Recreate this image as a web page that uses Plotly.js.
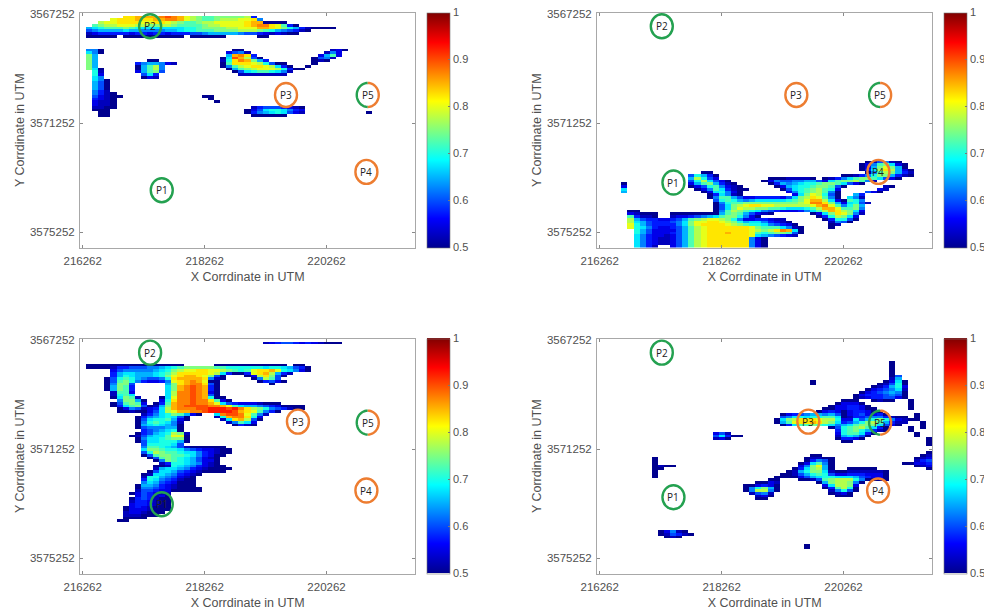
<!DOCTYPE html>
<html>
<head>
<meta charset="utf-8">
<script src="https://cdn.plot.ly/plotly-3.0.1.min.js"></script>
<style>html,body{margin:0;padding:0;background:#fff}#chart{width:984px;height:611px}</style>
</head>
<body>
<div id="chart"></div>
<script>
// Cell values as letters: a = 0.500 ... u = 1.000, in steps of 0.025. Entries: [row, column, letters]
const levelLetters = "abcdefghijklmnopqrstu";
const xTicks = [216262, 218262, 220262];
const yTicks = [3567252, 3571252, 3575252];
const colorTicks = [0.5, 0.6, 0.7, 0.8, 0.9, 1];
const colorTickText = ["0.5", "0.6", "0.7", "0.8", "0.9", "1"];
const pointNames = ["P1", "P2", "P3", "P4", "P5"];

const panelA = [
[1,7,"nnoooopqpomlkjjkkkkkld"],
[2,5,"mnnnonnooppomlkjjklllmmnf"],
[3,3,"lmmnnnnmmnnmlkjjkllmmmmmnoo"],[3,30,"aaaa"],
[4,2,"jkllmmmllkkllkjjjjkllmmmmnoppnmjda"],
[5,1,"ghijjjkjihhhhhhhiijkkkkllmmmoonmkigdba"],[5,39,"aaa"],
[6,1,"efgggghggffffgghiijjjkkkklllkjigfedba"],
[7,1,"bcdddddcddcddcdddeefgggggfeedcbcbaa"],
[8,1,"aaaaa"],[8,7,"aaaaaaaaaa"],[8,18,"aaaaaa"],[8,29,"aa"],
[13,1,"ffa"],[13,25,"aa"],[13,41,"bca"],
[14,1,"hfa"],[14,24,"cefb"],[14,40,"bfc"],
[15,1,"kg"],[15,24,"gopnd"],[15,39,"cgjc"],
[16,1,"kg"],[16,23,"ahqolea"],[16,38,"aefb"],
[17,1,"kg"],[17,11,"aa"],[17,23,"binpokgd"],[17,38,"aba"],
[18,1,"kg"],[18,9,"dfggfcb"],[18,23,"ajnnnmlie"],[18,32,"aa"],[18,38,"a"],
[19,1,"kg"],[19,9,"agjlf"],[19,23,"afjlmnnmlhda"],[19,37,"a"],
[20,1,"kha"],[20,9,"agjlf"],[20,24,"agjklmmmlidaa"],
[21,2,"ib"],[21,9,"cgjke"],[21,25,"aehijjihfb"],
[22,2,"ic"],[22,10,"ehd"],[22,26,"bbbbbbbb"],
[23,2,"hf"],[23,10,"acb"],
[24,2,"hfa"],[25,2,"gea"],[26,2,"gea"],[27,2,"gea"],[28,2,"fdb"],[29,2,"fdba"],
[30,2,"ecbaa"],[30,20,"aa"],
[31,2,"dcba"],[31,21,"a"],
[32,2,"cbba"],[32,22,"a"],
[33,2,"cbba"],
[34,2,"bbaa"],[34,28,"bdeeedcba"],
[35,2,"aaa"],[35,27,"acehiihfdc"],
[36,3,"aa"],[36,27,"adfghihecb"],[36,47,"a"],
[37,3,"aa"],[37,28,"aaaaaa"]
];

const panelB = [
[54,44,"abefba"],
[55,43,"acfjkhca"],
[56,43,"acgkmkga"],
[57,43,"adhlnlgca"],
[58,17,"aa"],[58,44,"afjlkgdb"],
[59,15,"eigda"],[59,40,"aabdfikkgdba"],
[60,15,"gliec"],[60,28,"aaabbbba"],[60,37,"abdfhjkkjheca"],
[61,15,"eilheca"],[61,27,"acfeeffggechjkkljfb"],
[62,4,"a"],[62,15,"cgjkgdba"],[62,28,"adgfghiijkkjheca"],
[63,4,"c"],[63,15,"aceijfcba"],[63,29,"acghiijkkjea"],[63,47,"ba"],
[64,4,"h"],[64,16,"acfjhdbaa"],[64,30,"aehijkljic"],[64,46,"cb"],
[65,4,"g"],[65,17,"achifca"],[65,31,"cfijkljfa"],[65,44,"eca"],
[66,18,"adhfba"],[66,32,"chkmliea"],[66,42,"gd"],
[67,18,"afjjgeccddddcehklnmjfa"],[67,41,"hfb"],
[68,19,"eijigfghhhhhijkmoolhca"],[68,41,"jif"],
[69,19,"afijjkkkkkkkkklmppnkgc"],[69,41,"hieb"],
[70,19,"aehklmnnmmllllllmopmjfikg"],
[71,19,"aehkmllkkjjihhhijloomjjkf"],
[72,5,"aa"],[72,19,"afjlkjihfedcccdfhjlonlkhc"],
[73,5,"cbaaa"],[73,12,"aaaaaaaa"],[73,20,"gjkjgecba"],[73,35,"achknmkfb"],
[74,5,"jdbba"],[74,12,"bccdefghjkkifca"],[74,36,"adilkhc"],
[75,5,"lgeddccdegjklmmlkifccddcbb"],[75,37,"adiiea"],
[76,5,"lhgedddefhkmmnnmlkighhfdcba"],[76,38,"bfea"],
[77,5,"migeddddfhkmnnnnmlkjiihfedca"],[77,38,"ab"],
[78,5,"mihfdccdegjlmnnnnnnnmkjjjhfba"],[78,38,"a"],
[79,6,"igeccccegjlmnnnnnnnmlklnpoha"],
[80,6,"igecccdegjlmnnnonnnmjijkkjea"],
[81,6,"hfdccbcegjlmnnnnnnnmhgfedcb"],
[82,6,"hfdcbbcegjlmnnnnnnnfca"],
[83,6,"hfdcbbcegjlmnnnnnnnfca"],
[84,6,"hfdcbbcegjlmnnnnnnnfca"],
[85,6,"hfdb"],[85,12,"cegjlmnnnnnnnfca"]
];

const panelC = [
[1,30,"bcdeedcdcbaaa"],
[9,1,"aaaaaaaaaaaaaaaa"],[9,22,"aaaaaaaaaaaa"],[9,35,"aa"],
[10,1,"aaaa"],[10,5,"bddeeeffghijkkkkkjjiiiiiihiihgeda"],
[11,5,"cefffffghiklmmnnmmlkjijmnnomihfca"],
[12,5,"dghhggghijlnnnnnmlhdaa"],[12,27,"dmnolgdb"],
[13,5,"dgihggghikmnoonmkea"],[13,27,"aclnkea"],
[14,4,"aeijigfeefinoooonfba"],[14,28,"aflje"],
[15,4,"aejkifdccdfmnopomaa"],[15,29,"adeca"],
[16,4,"afkke"],[16,14,"gknoppnea"],[16,31,"a"],
[17,4,"agkjd"],[17,14,"hkopqpoda"],
[18,4,"agkjd"],[18,14,"hkopqpoda"],
[19,5,"bjjc"],[19,14,"hlppqpoca"],
[20,5,"bijh"],[20,14,"hlppqpoea"],
[21,5,"ahkjb"],[21,13,"ahmppqpoiaa"],
[22,6,"fkkga"],[22,13,"cinppqppnjca"],
[23,5,"aejkjc"],[23,12,"adjoppqppomhedcccbaaa"],
[24,5,"adhjkea"],[24,12,"bgkopqqqqppomjhggfedcaaaa"],
[25,6,"acfebcdhlopppqqrrrqrpnlkifedbaa"],
[26,6,"aabaacehlmooppqrrrrqonmjfda"],
[27,10,"bdfhikjgca"],[27,22,"hpqqpmjfb"],
[28,9,"adfghihea"],[28,22,"bioppnic"],
[29,9,"aehiijgca"],[29,23,"bhnolea"],
[30,9,"afijihfb"],[30,24,"bfjhc"],
[31,9,"aghihgfa"],[31,25,"adba"],
[32,9,"aefffgga"],
[33,10,"defghia"],
[34,9,"adeghilkb"],
[35,8,"abeghhjmma"],
[36,9,"afhhijkka"],
[37,9,"aehhiiiga"],
[38,10,"eiiiihe"],
[39,10,"fjjihgebaaaaaa"],
[40,10,"hkkjiihfedccbaa"],
[41,10,"eilkjjihhfdcbaa"],
[42,10,"aejkkjjihfdcaa"],
[43,11,"aejkjihgecba"],
[44,12,"afkjihgecca"],
[45,13,"bdiihgfcba"],
[46,12,"aabihgfdcbaa"],
[47,12,"bghhgfdcbaaaa"],
[48,11,"aehhgedcbaaaa"],
[49,10,"abhhgfdcba"],
[50,10,"biigfecba"],
[51,10,"dihfedbaa"],
[52,10,"fhgedcaaa"],
[53,9,"aggfdcbaaa"],
[54,9,"affedcbaaaa"],
[55,9,"beedccaaaaa"],
[56,8,"acedcbb"],
[57,9,"cedbca"],
[58,8,"adedbaa"],
[59,8,"bddcbaa"],
[60,8,"cddcbaa"],
[61,7,"acdcbaaa"],
[62,7,"acccbaaa"],
[63,7,"bccbaaa"],
[64,7,"bbbaaa"],
[65,7,"aaaa"],
[66,6,"aa"]
];

const panelD = [
[8,48,"a"],[9,48,"a"],[10,48,"a"],[11,48,"a"],[12,48,"a"],
[13,48,"ae"],[14,48,"bg"],
[15,35,"a"],[15,47,"acha"],
[16,35,"a"],[16,46,"abeia"],
[17,45,"abdgic"],[18,44,"acdefhb"],[19,43,"acdefgfa"],[20,42,"acdddefea"],[21,42,"abcddeeca"],
[22,40,"aaa"],[22,45,"abaa"],[22,51,"a"],
[23,39,"accca"],[23,51,"a"],
[24,38,"accddca"],[24,51,"a"],
[25,37,"aaccddcaa"],[25,51,"a"],
[26,36,"acdcacddcaa"],
[27,30,"acdefggfgeacdeccda"],[27,52,"a"],
[28,30,"efhihiijjhabddeffdbaa"],[28,52,"a"],
[29,29,"ahklnnnmllicchegikifcba"],[29,52,"a"],
[30,29,"agjmnnonlkhdegikljgdbb"],[30,53,"a"],
[31,30,"adhjjkjihfghjkkkheca"],[31,53,"a"],
[32,38,"aeijkljhda"],[32,51,"a"],[32,53,"a"],
[33,39,"dijkigdba"],[33,51,"a"],
[34,19,"ceb"],[34,39,"cijjhda"],[34,52,"a"],
[35,19,"ehdaa"],[35,39,"bghgea"],[35,52,"a"],
[36,19,"bca"],[36,39,"addca"],[36,54,"a"],
[37,40,"aa"],[37,54,"a"],
[38,54,"a"],
[41,54,"a"],
[42,35,"aa"],[42,53,"ab"],
[43,9,"a"],[43,34,"abbaa"],[43,52,"abc"],
[44,9,"a"],[44,34,"adfea"],[44,52,"bde"],
[45,9,"a"],[45,33,"achjfa"],[45,50,"aaccd"],
[46,9,"abaa"],[46,33,"cfkmga"],[46,52,"abc"],
[47,9,"aa"],[47,32,"adhklga"],[47,41,"aaaaa"],[47,54,"a"],
[48,9,"a"],[48,31,"abgikkhbaabbbbbba"],
[49,9,"a"],[49,30,"aabegijieccdddccca"],
[50,9,"a"],[50,29,"aaaaceghiihhhgedcca"],
[51,28,"aa"],[51,33,"aabejklllifaaaa"],
[52,26,"aacb"],[52,36,"agkllkfa"],
[53,24,"aacdca"],[53,37,"chllkc"],
[54,24,"afikga"],[54,37,"adjlia"],
[55,24,"afllfa"],[55,38,"bfiea"],
[56,25,"befb"],[56,38,"abca"],
[57,26,"bca"],[57,39,"aaa"],
[58,26,"aa"],
[70,10,"acfba"],[71,10,"abedba"],[72,11,"aba"],
[75,34,"a"],[76,34,"a"]
];

// Reference points, one [x, y] per name, in map coordinates
const pointsA = [[217559,3573707],[217368,3567715],[219597,3570224],[220916,3573038],[220938,3570224]];
const pointsB = [[217472,3573427],[217281,3567715],[219488,3570224],[220834,3573038],[220862,3570224]];
const pointsC = [[217559,3573269],[217368,3567727],[219793,3570248],[220916,3572770],[220938,3570285]];
const pointsD = [[217472,3573013],[217281,3567727],[219684,3570248],[220829,3572770],[220862,3570285]];
const pointHues = ["green", "green", "orange", "orange", "split"];

const GREEN = "#24a150", ORANGE = "#ed7d31";
const W = 984, H = 611;
const COLS = 55, ROWS = 86;
const X0 = 216218, CELL = 100, Y0 = 3567228;
const xRange = [X0, X0 + COLS * CELL];
const yRange = [3575802, Y0];
const jet = [
  [0, "rgb(0,0,143)"], [0.125, "rgb(0,0,255)"], [0.375, "rgb(0,255,255)"],
  [0.625, "rgb(255,255,0)"], [0.875, "rgb(255,0,0)"], [1, "rgb(128,0,0)"]
];

function toGrid(entries) {
  const z = [];
  for (let r = 0; r < ROWS; r++) z.push(new Array(COLS).fill(null));
  entries.forEach(([r, c, letters]) => {
    for (let i = 0; i < letters.length; i++) {
      if (c + i < COLS) z[r][c + i] = 0.5 + levelLetters.indexOf(letters[i]) * 0.025;
    }
  });
  return z;
}
const xCenters = Array.from({length: COLS}, (_, c) => X0 + CELL * (c + 0.5));
const yCenters = Array.from({length: ROWS}, (_, r) => Y0 + CELL * (r + 0.5));

const frames = [
  {data: panelA, pts: pointsA, left: 80, top: 13, cb: 427},
  {data: panelB, pts: pointsB, left: 597, top: 13, cb: 944},
  {data: panelC, pts: pointsC, left: 80, top: 339, cb: 427},
  {data: panelD, pts: pointsD, left: 597, top: 339, cb: 944}
];
const PW = 335.3, PH = 234.5;
const grey = "#a8a8a8", textGrey = "#505050", fontFam = '"Liberation Sans", Arial, sans-serif';

const traces = [], shapes = [], annotations = [];
const layout = {
  width: W, height: H, autosize: false, showlegend: false,
  margin: {l: 0, r: 0, t: 0, b: 0, autoexpand: false},
  paper_bgcolor: "#fff", plot_bgcolor: "#fff",
  font: {family: fontFam, color: textGrey, size: 11.5}
};

function arc(sign) {
  let p = "";
  for (let i = 0; i <= 24; i++) {
    const t = -Math.PI / 2 + Math.PI * i / 24;
    const px = (sign * 11 * Math.cos(t)).toFixed(2), py = (12 * Math.sin(t)).toFixed(2);
    p += (i ? " L " : "M ") + px + " " + py;
  }
  return p;
}

frames.forEach((f, i) => {
  const n = i === 0 ? "" : String(i + 1);
  const xr = "x" + n, yr = "y" + n;
  const ca = "coloraxis" + n;
  traces.push({
    type: "heatmap", x: xCenters, y: yCenters, z: toGrid(f.data),
    coloraxis: ca, xaxis: xr, yaxis: yr, hoverongaps: false, zsmooth: false
  });
  const axisCommon = {
    showgrid: false, zeroline: false, showline: true, mirror: "ticks",
    linecolor: grey, linewidth: 1, ticks: "inside", ticklen: 3, tickcolor: "#8a8a8a",
    tickfont: {family: fontFam, size: 11.5, color: textGrey}, tickformat: "d"
  };
  layout["xaxis" + n] = Object.assign({}, axisCommon, {
    domain: [f.left / W, (f.left + PW) / W], range: xRange, anchor: yr,
    tickmode: "array", tickvals: xTicks,
    ticklabelstandoff: 3,
    title: {text: "X Corrdinate in UTM", standoff: 5, font: {family: fontFam, size: 12.5, color: textGrey}}
  });
  layout["yaxis" + n] = Object.assign({}, axisCommon, {
    domain: [1 - (f.top + PH) / H, 1 - f.top / H], range: yRange, anchor: xr,
    tickmode: "array", tickvals: yTicks,
    ticklabelstandoff: 2,
    title: {text: "Y Corrdinate in UTM", standoff: 2, font: {family: fontFam, size: 12.5, color: textGrey}}
  });
  layout[ca] = {
    cmin: 0.5, cmax: 1, colorscale: jet,
    colorbar: {
      x: f.cb / W, xanchor: "left", xpad: 0, ypad: 0,
      y: 1 - (f.top + PH) / H, yanchor: "bottom", len: PH / H, lenmode: "fraction",
      thickness: 23, thicknessmode: "pixels",
      outlinecolor: "#777", outlinewidth: 0.6,
      tickmode: "array", tickvals: colorTicks, ticktext: colorTickText,
      ticks: "inside", ticklen: 2, tickcolor: "#777",
      tickfont: {family: fontFam, size: 11, color: textGrey}
    }
  };
  f.pts.forEach((p, k) => {
    const hue = pointHues[k];
    const base = {xref: xr, yref: yr, xsizemode: "pixel", ysizemode: "pixel", xanchor: p[0], yanchor: p[1], layer: "above"};
    if (hue === "split") {
      shapes.push(Object.assign({type: "path", path: arc(-1), line: {color: GREEN, width: 2.4}}, base));
      shapes.push(Object.assign({type: "path", path: arc(1), line: {color: ORANGE, width: 2.4}}, base));
    } else {
      shapes.push(Object.assign({type: "circle", x0: -11, x1: 11, y0: -12, y1: 12,
        line: {color: hue === "green" ? GREEN : ORANGE, width: 2.4}}, base));
    }
    annotations.push({
      xref: xr, yref: yr, x: p[0], y: p[1], text: pointNames[k], showarrow: false,
      font: {family: '"Open Sans", "Noto Sans", sans-serif', size: 10, color: "#222"},
      xanchor: "center", yanchor: "middle"
    });
  });
});
layout.shapes = shapes;
layout.annotations = annotations;
Plotly.newPlot("chart", traces, layout, {displayModeBar: false, staticPlot: true});
</script>
</body>
</html>
